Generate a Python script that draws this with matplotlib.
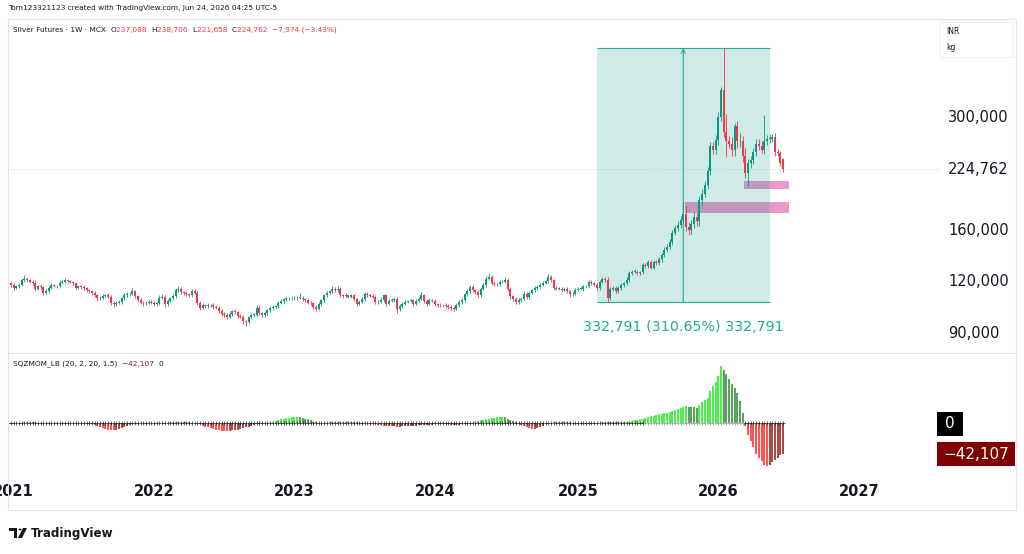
import numpy as np
import pandas as pd
import matplotlib
matplotlib.use("Agg")
import matplotlib.pyplot as plt
from matplotlib.patches import Rectangle, Polygon, Circle
from matplotlib.lines import Line2D
from matplotlib.transforms import blended_transform_factory

W, H = 1024, 554

# weekly closes, thousands of INR per kg (first bar = week of 2020-12-21)
close_k = [
    119, 118, 116, 117, 118, 121, 122, 121, 120, 119.5, 115.5, 117,
    116.5, 113, 114, 116, 118, 117.5, 117, 119.5, 120, 121, 120.5, 120,
    119, 116, 117, 116.5, 116, 114.5, 114, 113, 111.5, 109.5, 110, 111,
    111.5, 110.5, 107, 106, 107, 107.5, 109.5, 111.5, 112, 112.5, 114, 111,
    108.5, 107, 106.5, 107, 107.5, 107, 106, 106.5, 110, 110.5, 106, 108,
    109.5, 111, 114.5, 115.5, 113.5, 113, 112, 111.5, 114, 113, 107, 104,
    105.5, 105, 105.5, 105.5, 104.5, 104, 102, 100.5, 99.8, 99, 100.5, 102,
    101.5, 99.5, 99, 96.5, 96, 98.5, 100, 100, 104, 101, 100, 101,
    102.5, 104, 104.5, 105, 107, 108, 109, 109.5, 109.5, 110, 109.5, 110,
    110, 109, 108.5, 107, 106.5, 104.5, 103.5, 106, 108.4, 111.4, 113, 114,
    115.6, 114.5, 115.6, 111.4, 111, 111.5, 110.5, 111.4, 109, 106.4, 107.4, 109,
    112.5, 111.5, 111, 110.5, 107.4, 107.5, 108.4, 111.4, 106.4, 108, 108.4, 109.4,
    103, 105, 106.4, 107.5, 108, 108.4, 106.4, 108, 109.4, 111.4, 108, 106.4,
    108.4, 108, 106, 105.5, 105.4, 105.5, 105, 104.5, 104, 103.5, 105.4, 107.4,
    108.5, 112, 114, 116.7, 114.5, 113.5, 111.4, 115.6, 118, 122.2, 123.3, 119.5,
    118.5, 118.5, 120, 120, 121.5, 115.6, 111, 109, 107.4, 108.5, 109.4, 112.5,
    110.4, 113, 114.5, 116, 116.7, 118, 119.5, 120.5, 123.3, 121, 116, 115.6,
    115.6, 115, 115.6, 114, 112, 112.5, 115, 115.6, 115.6, 117, 117.3, 120,
    119, 118, 116, 120, 122, 121.3, 110, 115.5, 116, 114, 116, 118,
    119, 121.5, 126, 127, 127, 126, 126.5, 131.8, 131, 134, 130, 134,
    133.5, 136, 139.5, 143.4, 146, 150, 157.5, 162, 165, 169.4, 175, 163,
    160, 166, 172, 168, 189, 196, 206, 222, 255, 250, 264, 300,
    349, 276, 262, 258, 250, 285, 262, 262, 242, 220, 232, 236,
    247, 258, 256, 250, 262, 266, 266, 268, 247, 246, 232.736, 224.762,
]
first_open_k = 120

# wick lengths above / below the body, thousands
wick_hi_k = [
    1.2, 0.8, 1.5, 0.9, 1.1, 1.4, 2.5, 1.0, 0.8, 1.2, 1.6, 0.9,
    1.1, 0.7, 1.3, 1.0, 1.2, 0.9, 0.8, 1.5, 1.1, 1.8, 0.9, 1.0,
    0.8, 1.2, 1.0, 0.9, 1.3, 0.7, 1.1, 0.9, 1.0, 0.8, 1.2, 1.0,
    0.9, 1.1, 1.3, 0.8, 1.0, 1.2, 0.9, 1.1, 1.4, 0.8, 2.2, 1.0,
    0.9, 1.1, 0.8, 1.0, 1.2, 0.9, 1.0, 0.8, 1.3, 1.5, 1.0, 0.9,
    1.1, 1.2, 1.4, 1.8, 1.0, 0.9, 1.1, 0.8, 1.2, 1.3, 1.0, 0.9,
    1.0, 0.8, 1.1, 0.9, 1.0, 0.8, 0.9, 1.1, 0.8, 1.0, 1.2, 0.9,
    1.0, 0.8, 0.9, 1.1, 0.8, 1.0, 1.2, 0.9, 1.5, 1.0, 0.8, 1.1,
    0.9, 1.0, 1.2, 0.8, 1.1, 1.3, 0.9, 1.0, 0.8, 1.2, 1.0, 0.9,
    2.8, 1.0, 0.9, 1.1, 0.8, 1.0, 0.9, 1.2, 1.0, 1.1, 1.3, 1.0,
    2.0, 1.1, 1.5, 1.0, 0.9, 1.2, 1.0, 1.1, 0.8, 1.0, 0.9, 1.2,
    1.0, 1.1, 0.9, 1.0, 0.8, 1.2, 2.0, 1.1, 0.9, 1.0, 1.2, 1.0,
    1.1, 0.9, 1.0, 1.2, 0.8, 1.0, 0.9, 1.1, 1.0, 1.8, 1.0, 0.9,
    1.1, 0.8, 1.0, 0.9, 1.0, 0.8, 1.2, 0.9, 1.0, 0.8, 1.1, 1.0,
    1.2, 1.0, 1.4, 1.5, 1.0, 0.9, 1.1, 1.2, 1.5, 1.8, 2.5, 1.3,
    1.0, 1.2, 1.1, 1.0, 1.5, 1.3, 1.0, 0.9, 1.1, 1.0, 1.2, 1.3,
    1.0, 1.2, 1.1, 1.3, 1.2, 1.0, 1.3, 1.1, 2.2, 1.4, 1.0, 1.1,
    1.0, 1.2, 0.9, 1.1, 1.0, 1.2, 1.1, 1.0, 1.3, 1.2, 1.0, 1.5,
    1.2, 1.0, 1.3, 1.5, 1.2, 1.4, 2.0, 1.0, 1.3, 1.1, 1.0, 1.2,
    1.1, 1.5, 1.3, 1.2, 1.6, 1.4, 1.2, 1.5, 1.8, 1.4, 1.6, 1.5,
    1.8, 1.6, 1.5, 2.0, 1.8, 2.2, 3.0, 2.5, 3.0, 3.5, 12.0, 8.0,
    4.0, 3.5, 5.0, 4.0, 4.5, 5.0, 4.0, 5.0, 6.0, 6.0, 7.0, 8.0,
    6.0, 90.9, 29.0, 8.0, 10.0, 6.0, 8.0, 12.0, 8.0, 10.0, 6.0, 5.0,
    6.0, 8.0, 7.0, 6.0, 41.0, 6.0, 7.0, 5.0, 6.0, 4.0, 3.0, 1.6,
]
wick_lo_k = [
    1.0, 1.2, 1.4, 0.8, 1.0, 0.9, 1.1, 1.0, 0.9, 1.2, 1.5, 1.0,
    0.9, 1.6, 1.0, 1.1, 0.8, 1.0, 1.2, 0.9, 1.0, 0.8, 1.1, 1.0,
    1.2, 1.5, 0.9, 1.0, 1.1, 1.2, 0.9, 1.3, 1.0, 1.4, 0.9, 1.0,
    1.1, 1.0, 1.5, 1.6, 0.9, 1.0, 1.1, 0.8, 1.0, 0.9, 1.2, 1.4,
    1.2, 1.0, 1.3, 0.9, 1.0, 1.1, 1.2, 1.0, 0.9, 1.1, 1.5, 1.0,
    0.9, 1.0, 1.2, 1.1, 1.0, 1.2, 0.9, 1.0, 1.1, 1.0, 1.3, 1.4,
    1.0, 1.1, 0.9, 1.0, 1.2, 1.0, 1.1, 1.3, 1.0, 1.2, 0.9, 1.0,
    1.1, 1.2, 1.0, 1.4, 2.0, 1.0, 0.9, 1.1, 1.0, 1.2, 1.1, 1.0,
    1.0, 0.9, 1.1, 1.0, 0.9, 1.0, 1.1, 0.9, 1.0, 1.2, 1.0, 0.9,
    1.1, 1.0, 1.2, 1.0, 1.1, 1.4, 1.5, 1.0, 0.9, 1.1, 1.0, 0.9,
    1.0, 1.1, 0.9, 1.2, 1.0, 1.1, 0.9, 1.0, 1.2, 1.3, 1.0, 0.9,
    1.0, 1.1, 0.9, 1.0, 1.2, 1.0, 0.9, 1.1, 1.3, 1.0, 0.9, 1.0,
    1.8, 1.0, 0.9, 1.1, 1.0, 0.9, 1.2, 1.0, 0.9, 1.0, 1.1, 1.2,
    1.0, 0.9, 1.1, 1.0, 1.2, 0.9, 1.0, 1.1, 1.3, 1.2, 1.0, 0.9,
    1.0, 1.1, 0.9, 1.0, 1.2, 1.1, 1.3, 1.0, 0.9, 1.1, 1.2, 1.3,
    1.1, 1.0, 1.2, 0.9, 1.0, 1.5, 1.6, 1.2, 1.4, 1.1, 1.0, 0.9,
    1.2, 1.0, 0.9, 1.1, 1.0, 1.2, 0.9, 1.0, 1.1, 1.2, 1.3, 1.0,
    1.1, 1.0, 1.2, 1.3, 1.6, 1.0, 0.9, 1.1, 1.0, 1.2, 1.0, 1.1,
    1.2, 1.0, 1.4, 1.1, 1.0, 1.2, 2.8, 1.5, 1.2, 1.3, 1.0, 1.1,
    1.2, 1.0, 1.3, 1.1, 1.2, 1.4, 1.0, 1.3, 1.5, 1.2, 1.4, 1.3,
    1.5, 1.4, 1.6, 1.8, 1.5, 2.0, 2.5, 2.0, 3.0, 3.0, 4.0, 4.0,
    4.0, 3.0, 4.0, 4.0, 4.0, 5.0, 4.0, 5.0, 5.0, 6.0, 6.0, 7.0,
    6.0, 8.0, 22.0, 6.0, 8.0, 8.0, 9.0, 8.0, 8.0, 6.0, 15.0, 6.0,
    5.0, 6.0, 6.0, 5.0, 6.0, 5.0, 6.0, 5.0, 6.0, 4.0, 4.0, 3.1,
]

# squeeze momentum histogram, thousands
mom_k = [
    -2, -1.5, -0.8, -0.3, 0.3, 0.6, 0.9, 1.1, 1.2, 1.1, 0.8, 0.5,
    0.2, -0.3, -0.5, -0.6, -0.4, -0.3, -0.2, 0.2, 0.4, 0.5, 0.3, 0.2,
    -0.2, -0.4, -0.5, -0.6, -0.6, -0.7, -0.8, -1, -2.5, -4, -5.5, -7,
    -8, -9, -9.5, -10, -9.5, -8.5, -7, -5.5, -4, -3, -2, -1,
    -0.6, -0.5, -0.4, -0.5, -0.6, -0.4, -0.3, -0.2, 0.3, 0.5, 0.4, 0.6,
    0.8, 1.0, 1.2, 1.5, 1.6, 1.5, 1.2, 0.8, 0.4, -0.3, -1, -2,
    -3.5, -5, -6, -7, -8, -9, -9.5, -10.5, -11, -11.2, -10.5, -10,
    -9.5, -9, -8, -7, -6, -5, -4, -3, -2, -1.5, -1, -0.5,
    0.5, 1, 2, 3, 4, 5, 5.5, 6.5, 7, 7.5, 8, 8.2,
    7.5, 7, 6, 5, 3.5, 2, 1, 0.5, 0.3, 0.2, 0.4, 0.8,
    1.0, 1.2, 1.5, 1.6, 1.8, 1.6, 1.5, 1.3, 1.0, 0.8, 0.4, 0.2,
    -0.3, -0.5, -1, -1.5, -2, -2.5, -3, -3.5, -4, -4, -4.5, -4.5,
    -5, -5, -4.5, -4.5, -4, -4, -3.5, -3.5, -3, -3, -3, -2.5,
    -2.5, -2.5, -2, -2, -2, -2, -2, -2, -2.5, -2.5, -3, -2.5,
    -2, -1.5, -1, -0.5, 0.5, 1.5, 2.5, 3.5, 4.5, 5.5, 6, 6.5,
    7, 7.5, 8, 8.2, 7.5, 6, 4.5, 3, 1, -1, -2.5, -4,
    -5.5, -7, -8, -7.5, -6.5, -5, -3.5, -2, -1, 0.5, 1, 1.5,
    2, 2, 2, 1.5, 1, -0.5, -1, -1.5, -2, -2, -2, -1.5,
    -1.5, -1, -0.5, 0.5, 1, 1.5, 1.5, 1, 1, 1, 1, 1,
    1, 1.5, 2, 2.5, 3.5, 4.5, 5.5, 6, 7, 8, 9, 10,
    11, 12, 12.5, 13, 14, 15, 16, 17.5, 19, 20.5, 22, 22.5,
    22, 21.5, 21.5, 21, 24.5, 28, 31, 34, 43, 50, 56, 64,
    77.5, 72, 66, 60, 53, 47, 41, 30, 14, -4, -16, -24,
    -33, -42, -47, -52, -57, -58, -57, -53, -50, -47, -44, -42.107,
]
squeeze_off = (236, 272)  # bars whose zero-line crosses are grey

last_ohlc = (237088, 238706, 221658, 224762)
change, change_pct = -7974, -3.43

years = [2021, 2022, 2023, 2024, 2025, 2026, 2027]
price_ticks = [90000, 120000, 160000, 300000]

range_bars = (218, 282)
range_prices = (107127, 439918)
range_label = "332,791 (310.65%) 332,791"
zones = [  # bar from, bar to, low, high
    (250.5, 289.3, 176400, 186900),
    (272.5, 289.3, 201500, 210700),
]

UP, DOWN = "#089981", "#f23645"
TEXT = "#131722"
FRAME = "#e0e3eb"


def fx(px):
    return px / W


def fy(py):
    return 1 - py / H


close = np.array(close_k) * 1000
open_ = np.r_[first_open_k * 1000, close[:-1]]
open_[-1] = last_ohlc[0]
high = np.maximum(open_, close) + np.array(wick_hi_k) * 1000
low = np.minimum(open_, close) - np.array(wick_lo_k) * 1000
mom = np.array(mom_k) * 1000
idx = np.arange(len(close))

dates = pd.date_range("2020-12-21", periods=len(close) + 60, freq="W-MON")

fig = plt.figure(figsize=(W / 100, H / 100), dpi=100)
fig.patch.set_facecolor("white")

ax = fig.add_axes([fx(8), fy(352), (940 - 8) / W, (352 - 19) / H])
ax2 = fig.add_axes([fx(8), fy(475), (940 - 8) / W, (475 - 353) / H])
for a in (ax, ax2):
    a.set_xlim(-0.1, 345.1)
    a.axis("off")

# ---- main pane
ax.set_yscale("log")
ax.set_ylim(81300, 517300)

up = close >= open_
ccol = np.where(up, UP, DOWN)
ax.vlines(idx, low, high, colors=ccol, lw=0.6, zorder=4)
body = np.maximum(np.abs(close - open_), close * 0.002)
ax.bar(idx, body, bottom=np.minimum(open_, close), width=0.75, color=ccol,
       lw=0, zorder=5)

for b0, b1, lo, hi in zones:
    ax.add_patch(Rectangle((b0, lo), b1 - b0, hi - lo, fc="#ea99cc", ec="none", zorder=2))

r0, r1 = range_bars
p0, p1 = range_prices
ax.add_patch(Rectangle((r0, p0), r1 - r0, p1 - p0, fc=(8 / 255, 153 / 255, 129 / 255, 0.19),
                       ec="none", zorder=3))
ax.hlines([p0, p1], r0, r1, color="#22ab94", lw=0.8, zorder=3)
mid = (r0 + r1) / 2
ax.annotate("", xy=(mid, p1), xytext=(mid, p0),
            arrowprops=dict(arrowstyle="->", color="#22ab94", lw=0.8,
                            shrinkA=0, shrinkB=0, mutation_scale=7), zorder=3)
ax.text(mid, 93460, range_label, ha="center", va="center", fontsize=10.3,
        color="#22ab94")

ax.axhline(close[-1], color="#b2b5be", lw=0.5, ls=(0, (1, 3)), zorder=1)

tr = blended_transform_factory(fig.transFigure, ax.transData)
for p in price_ticks + [close[-1]]:
    ax.text(fx(948), p, f"{p:,.0f}", transform=tr, ha="left", va="center",
            fontsize=10.5, color=TEXT)

# ---- squeeze momentum pane
ax2.set_ylim(-70600, 95000)
prev = np.r_[0, mom[:-1]]
hcol = np.where(mom > 0, np.where(mom > prev, "#4cf24c", "#5aa35a"),
                np.where(mom < prev, "#ff5252", "#b04848"))
ax2.bar(idx, mom, width=0.75, color=hcol, lw=0, zorder=2)
dcol = np.where((idx >= squeeze_off[0]) & (idx <= squeeze_off[1]), "#a0a0a0", "#2a2a2a")
ax2.scatter(idx, np.zeros_like(mom), marker="+", s=5, c=dcol, lw=0.5, zorder=3)

# value boxes on the indicator scale (24 px tall)
box_h = 24 * (95000 + 70600) / (475 - 353)
tr2 = blended_transform_factory(fig.transFigure, ax2.transData)
ax2.add_patch(Rectangle((fx(937), -box_h / 2 - 1000), fx(963) - fx(937), box_h,
                        transform=tr2, fc="black", ec="none", clip_on=False))
ax2.text(fx(950), -1000, "0", transform=tr2, ha="center", va="center",
         fontsize=11, color="white")
ax2.add_patch(Rectangle((fx(937), mom[-1] - box_h / 2), fx(1015) - fx(937), box_h,
                        transform=tr2, fc="#7e0000", ec="none", clip_on=False))
ax2.text(fx(976), mom[-1], f"\u2212{abs(mom[-1]):,.0f}", transform=tr2,
         ha="center", va="center", fontsize=11, color="white")

# ---- time axis
trx = blended_transform_factory(ax2.transData, fig.transFigure)
for y in years:
    pos = np.nonzero(dates.year == y)[0][0]
    ax2.text(pos, fy(492), str(y), transform=trx, ha="center", va="center",
             fontsize=10.5, fontweight="bold", color=TEXT, clip_on=False)

# ---- frame and separators
fig.add_artist(Rectangle((fx(8), fy(510)), (1016 - 8) / W, (510 - 19) / H,
                         transform=fig.transFigure, fill=False, ec=FRAME, lw=0.8))
fig.add_artist(Line2D([fx(8), fx(1016)], [fy(353), fy(353)], color=FRAME, lw=0.8))

# INR / kg box
fig.add_artist(Rectangle((fx(940), fy(57)), fx(1013) - fx(940), (57 - 22) / H,
                         transform=fig.transFigure, fill=False, ec="#eceef2", lw=0.6))
fig.text(fx(946), fy(31), "INR", fontsize=5.5, color=TEXT, va="center")
fig.text(fx(946), fy(48), "kg", fontsize=5.5, color=TEXT, va="center")


# ---- legends
def place(parts, x0, y0, size):
    renderer = fig.canvas.get_renderer()
    x = x0
    for s, c in parts:
        t = fig.text(fx(x), fy(y0), s, fontsize=size, color=c, va="center", ha="left")
        x += t.get_window_extent(renderer).width


fig.text(fx(8), fy(8), "Tom123321123 created with TradingView.com, Jun 24, 2026 04:25 UTC-5",
         fontsize=5.3, color=TEXT, va="center")

o, h, l, c = last_ohlc
place([("Silver Futures \u00b7 1W \u00b7 MCX  ", TEXT),
       ("O", TEXT), (f"{o:,}  ", DOWN), ("H", TEXT), (f"{h:,}  ", DOWN),
       ("L", TEXT), (f"{l:,}  ", DOWN), ("C", TEXT), (f"{c:,}  ", DOWN),
       (f"\u2212{abs(change):,} (\u2212{abs(change_pct):.2f}%)", DOWN)],
      13, 30, 5.3)
place([("SQZMOM_LB (20, 2, 20, 1.5)  ", TEXT),
       (f"\u2212{abs(mom[-1]):,.0f}  ", "#8b1a1a"), ("0", TEXT)],
      13, 364, 5.3)

# TradingView logo
fig.add_artist(Polygon([[fx(9), fy(528)], [fx(17), fy(528)], [fx(17), fy(538)],
                        [fx(14), fy(538)], [fx(14), fy(531)], [fx(9), fy(531)]],
                       closed=True, transform=fig.transFigure, fc=TEXT, ec="none"))
fig.add_artist(Circle((fx(20), fy(529.5)), 1.6 / W, transform=fig.transFigure,
                      fc=TEXT, ec="none"))
fig.add_artist(Polygon([[fx(23), fy(528)], [fx(27), fy(528)], [fx(22), fy(538)],
                        [fx(18), fy(538)]], closed=True, transform=fig.transFigure,
                       fc=TEXT, ec="none"))
fig.text(fx(31), fy(533), "TradingView", fontsize=8.6, fontweight="bold",
         color=TEXT, va="center")

fig.savefig("out.png", dpi=100, facecolor="white")
